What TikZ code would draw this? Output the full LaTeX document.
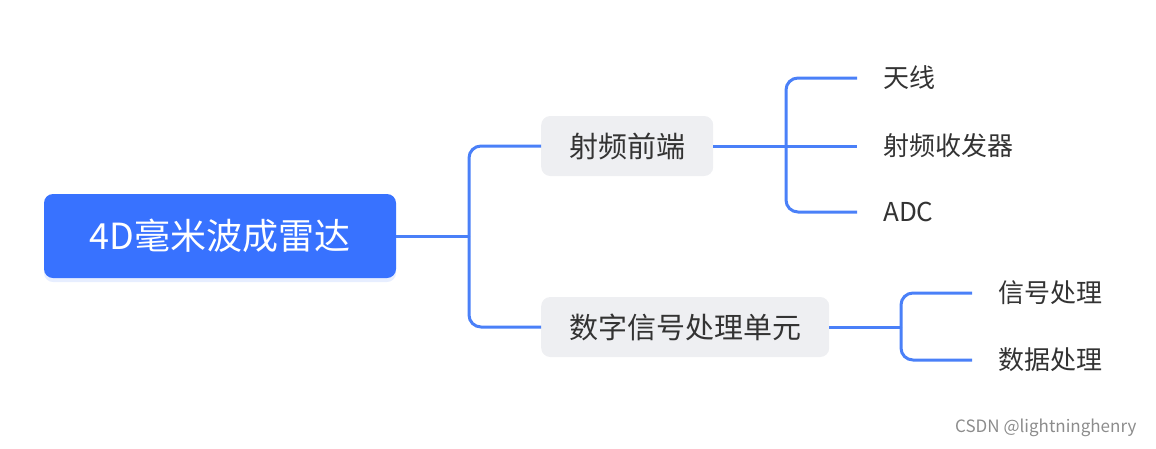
\documentclass[tikz,border=0pt]{standalone}
\usepackage{fontspec}
\setmainfont{Noto Sans CJK SC}
\usetikzlibrary{positioning,shadows}
\definecolor{rootblue}{HTML}{3872FF}
\definecolor{linkblue}{HTML}{4A80F8}
\definecolor{boxgray}{HTML}{EEEFF2}
\definecolor{txtgray}{HTML}{333333}

\begin{document}
\begin{tikzpicture}[x=1pt,y=-1pt,
		rootbox/.style={fill=rootblue,rounded corners=9pt,text=white,minimum width=352pt,minimum height=84pt,font=\fontsize{36}{42}\selectfont,
			drop shadow={opacity=0.12,shadow xshift=0pt,shadow yshift=-4pt,fill=rootblue}},
		subbox/.style={fill=boxgray,rounded corners=9pt,text=txtgray,anchor=west,minimum height=60pt,inner xsep=28pt,font=\fontsize{29}{34}\selectfont},
		leaf/.style={anchor=west,inner xsep=26pt,text=txtgray,font=\fontsize{26}{30}\selectfont},
		link/.style={draw=linkblue,line width=3pt,rounded corners=12pt}]
		\useasboundingbox (0,0) rectangle (1156,448);
		\node[rootbox] (radar) at (220,236) {4D毫米波成雷达};
		\node[subbox] (rf) at (541,146) {射频前端};
		\node[subbox] (dsp) at (541,327) {数字信号处理单元};
		\node[leaf] (ant) at (857,78) {天线};
		\node[leaf] (trx) at (857,146) {射频收发器};
		\node[leaf] (adc) at (857,212) {ADC};
		\node[leaf] (sig) at (972,293) {信号处理};
		\node[leaf] (dat) at (972,360) {数据处理};
		\node[anchor=east,text=black!45,font=\fontsize{17}{20}\selectfont] (mark) at (1140,428) {CSDN @lightninghenry};
		\coordinate (j0) at (469,236);
		\coordinate (j1) at (786,146);
		\coordinate (j2) at (901,327);
		\draw[link] (radar.east) -- (j0);
		\foreach \n in {rf,dsp}
			\draw[link] (j0) |- (\n.west);
		\draw[link] (rf.east) -- (trx.west);
		\foreach \n in {ant,adc}
			\draw[link] (j1) |- (\n.west);
		\draw[link] (dsp.east) -- (j2);
		\foreach \n in {sig,dat}
			\draw[link] (j2) |- (\n.west);
	\end{tikzpicture}
\end{document}
